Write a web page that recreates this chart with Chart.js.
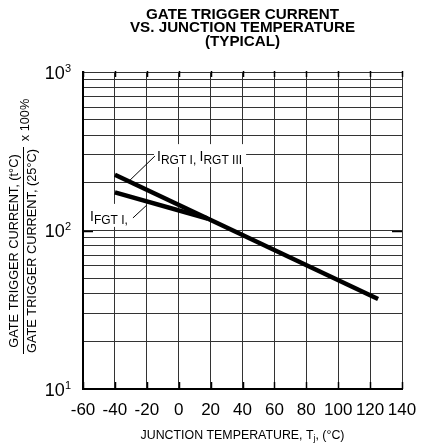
<!DOCTYPE html>
<html>
<head>
<meta charset="utf-8">
<script src="https://cdn.jsdelivr.net/npm/chart.js@4"></script>
<style>
  html, body { margin: 0; padding: 0; background: #fff; }
  #wrap { width: 438px; height: 443px; position: relative; }
</style>
</head>
<body>
<div id="wrap"><canvas id="c" width="438" height="443"></canvas></div>
<script>
// ---- data ----
const titleLines = ['GATE TRIGGER CURRENT', 'VS. JUNCTION TEMPERATURE', '(TYPICAL)'];
const xTicks = [-60, -40, -20, 0, 20, 40, 60, 80, 100, 120, 140];
const yTicks = [10, 20, 30, 40, 50, 60, 70, 80, 90, 100, 200, 300, 400, 500, 600, 700, 800, 900, 1000];
const yLabelDecades = [1, 2, 3];          // 10^1, 10^2, 10^3
const irgtTemp = [-40, 125];
const irgtValue = [225, 37];
const ifgtTemp = [-40, 18];
const ifgtValue = [174, 119];
const yTitleTop = 'GATE TRIGGER CURRENT, (t°C)';
const yTitleBottom = 'GATE TRIGGER CURRENT, (25°C)';
const yTitleFactor = 'x 100%';
const xTitleMain = 'JUNCTION TEMPERATURE, T';
const xTitleSub = 'j';
const xTitleEnd = ', (°C)';
// annotation anchors in data units (temperature, value)
const irgtLabel = { main: ['I', 'I'], sub: ['RGT I, ', 'RGT III'], at: [-13.6, 274], lead: [[-14.9, 295], [-30.5, 208]] };
const ifgtLabel = { main: ['I'], sub: ['FGT I,'], at: [-55.6, 115], lead: [[-28.7, 120], [-19.9, 145]] };

const FONT = '"Liberation Sans", Arial, sans-serif';

function toPts(xs, ys) { return xs.map((x, i) => ({ x: x, y: ys[i] })); }

// font size that makes text span the given width
function fitSize(ctx, text, width, weight) {
  ctx.font = (weight || '') + ' 10px ' + FONT;
  return 10 * width / ctx.measureText(text).width;
}

const decor = {
  id: 'decor',
  beforeDatasetsDraw(chart) {
    const ctx = chart.ctx, xs = chart.scales.x, ys = chart.scales.y, a = chart.chartArea;
    ctx.save();
    ctx.strokeStyle = '#000';
    ctx.lineWidth = 1.5;
    xTicks.forEach(t => {
      const px = Math.round(xs.getPixelForValue(t)) + 0.5;
      ctx.beginPath(); ctx.moveTo(px, a.bottom); ctx.lineTo(px, a.bottom - 7); ctx.stroke();
      ctx.beginPath(); ctx.moveTo(px, a.top - 1); ctx.lineTo(px, a.top + 5); ctx.stroke();
    });
    const p100 = Math.round(ys.getPixelForValue(100)) + 0.5;
    ctx.beginPath(); ctx.moveTo(a.left, p100); ctx.lineTo(a.left + 10, p100); ctx.stroke();
    ctx.beginPath(); ctx.moveTo(a.right, p100); ctx.lineTo(a.right - 10, p100); ctx.stroke();
    ctx.restore();
  },
  afterDatasetsDraw(chart) {
    const ctx = chart.ctx, xs = chart.scales.x, ys = chart.scales.y, a = chart.chartArea;
    ctx.save();
    ctx.fillStyle = '#000';
    ctx.strokeStyle = '#000';

    function drawLabel(lbl) {
      const x0 = xs.getPixelForValue(lbl.at[0]);
      const y0 = ys.getPixelForValue(lbl.at[1]);
      let w = 0;
      const mainFont = '14px ' + FONT, subFont = '12px ' + FONT;
      lbl.main.forEach((m, i) => {
        ctx.font = mainFont; w += ctx.measureText(m).width;
        ctx.font = subFont; w += ctx.measureText(lbl.sub[i]).width;
      });
      ctx.fillStyle = '#fff';
      ctx.fillRect(x0 - 3, y0 - 17, w + 7, 23);
      ctx.fillStyle = '#000';
      let x = x0;
      ctx.textBaseline = 'alphabetic';
      ctx.textAlign = 'left';
      lbl.main.forEach((m, i) => {
        ctx.font = mainFont; ctx.fillText(m, x, y0); x += ctx.measureText(m).width;
        ctx.font = subFont; ctx.fillText(lbl.sub[i], x, y0 + 3); x += ctx.measureText(lbl.sub[i]).width;
      });
      ctx.lineWidth = 1;
      ctx.beginPath();
      ctx.moveTo(xs.getPixelForValue(lbl.lead[0][0]), ys.getPixelForValue(lbl.lead[0][1]));
      ctx.lineTo(xs.getPixelForValue(lbl.lead[1][0]), ys.getPixelForValue(lbl.lead[1][1]));
      ctx.stroke();
    }
    drawLabel(irgtLabel);
    drawLabel(ifgtLabel);

    // y tick labels 10^n
    yLabelDecades.forEach(n => {
      const py = ys.getPixelForValue(Math.pow(10, n));
      ctx.font = '11px ' + FONT;
      const ew = ctx.measureText(String(n)).width;
      const right = a.left - 12;
      ctx.textAlign = 'right';
      ctx.textBaseline = 'alphabetic';
      ctx.fillText(String(n), right, py - 0.5);
      ctx.font = '18px ' + FONT;
      ctx.fillText('10', right - ew, py + 6.5);
    });

    // title
    const tc = (a.left + a.right) / 2;
    const ts = fitSize(ctx, titleLines[1], 225, 'bold');
    ctx.font = 'bold ' + ts.toFixed(2) + 'px ' + FONT;
    ctx.textAlign = 'center';
    ctx.textBaseline = 'middle';
    titleLines.forEach((t, i) => ctx.fillText(t, tc, 15 + i * 13.3));

    // x title with subscript
    const xsz = fitSize(ctx, xTitleMain + 'j' + xTitleEnd, 205);
    ctx.textBaseline = 'alphabetic';
    ctx.textAlign = 'left';
    const f1 = xsz.toFixed(2) + 'px ' + FONT, f2 = (xsz * 0.7).toFixed(2) + 'px ' + FONT;
    ctx.font = f1; const w1 = ctx.measureText(xTitleMain).width, w3 = ctx.measureText(xTitleEnd).width;
    ctx.font = f2; const w2 = ctx.measureText(xTitleSub).width;
    let xx = tc - (w1 + w2 + w3) / 2;
    const by = 439;
    ctx.font = f1; ctx.fillText(xTitleMain, xx, by); xx += w1;
    ctx.font = f2; ctx.fillText(xTitleSub, xx, by + 2); xx += w2;
    ctx.font = f1; ctx.fillText(xTitleEnd, xx, by);

    // y title (fraction)
    const cy = 251;
    const ysz = fitSize(ctx, yTitleBottom, 204);
    ctx.save();
    ctx.rotate(-Math.PI / 2);
    ctx.font = ysz.toFixed(2) + 'px ' + FONT;
    ctx.textAlign = 'center';
    ctx.textBaseline = 'middle';
    ctx.fillText(yTitleTop, -cy, 14.5);
    ctx.fillText(yTitleBottom, -cy, 32.5);
    ctx.fillText(yTitleFactor, -120, 25.5);
    ctx.lineWidth = 1;
    ctx.beginPath(); ctx.moveTo(-147, 23.5); ctx.lineTo(-354, 23.5); ctx.stroke();
    ctx.restore();

    ctx.restore();
  }
};

new Chart(document.getElementById('c'), {
  type: 'line',
  data: {
    datasets: [
      { label: 'IRGT', data: toPts(irgtTemp, irgtValue), borderColor: '#000', borderWidth: 4.5, pointRadius: 0, fill: false, tension: 0 },
      { label: 'IFGT', data: toPts(ifgtTemp, ifgtValue), borderColor: '#000', borderWidth: 4.5, pointRadius: 0, fill: false, tension: 0 }
    ]
  },
  options: {
    responsive: false,
    animation: false,
    devicePixelRatio: 1,
    layout: { padding: { top: 72, right: 36, left: 0, bottom: 0 } },
    plugins: { legend: { display: false }, title: { display: false }, tooltip: { enabled: false } },
    scales: {
      x: {
        type: 'linear', min: -60, max: 140,
        afterBuildTicks: s => { s.ticks = xTicks.map(v => ({ value: v })); },
        afterFit: s => { s.height = 54; },
        grid: { color: '#333', lineWidth: 1, drawTicks: false },
        border: { color: '#000', width: 2 },
        ticks: { color: '#000', font: { family: FONT, size: 17 }, padding: 11, maxRotation: 0, autoSkip: false,
                 callback: v => String(v) }
      },
      y: {
        type: 'logarithmic', min: 10, max: 1000,
        afterBuildTicks: s => { s.ticks = yTicks.map(v => ({ value: v })); },
        afterFit: s => { s.width = 83; },
        grid: { color: '#333', lineWidth: 1, drawTicks: false },
        border: { color: '#000', width: 2 },
        ticks: { display: false }
      }
    }
  },
  plugins: [decor]
});
</script>
</body>
</html>
